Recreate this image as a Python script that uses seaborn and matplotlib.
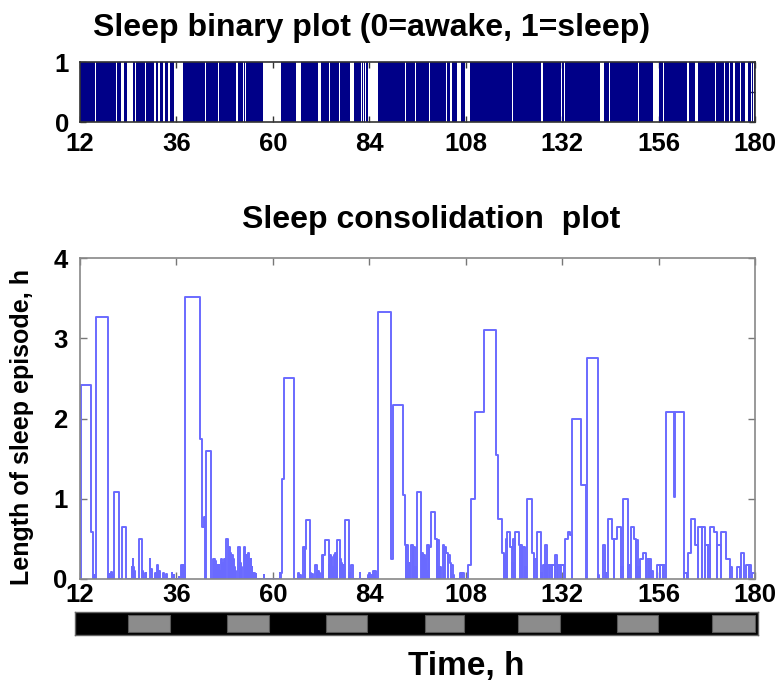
import matplotlib
matplotlib.use("Agg")
import matplotlib.pyplot as plt
from matplotlib.patches import Rectangle
import seaborn as sns

# ---------------- data ----------------
hour_ticks = [12, 36, 60, 84, 108, 132, 156, 180]
cons_yticks = [0, 1, 2, 3, 4]

# sleep episodes: onset (h), offset (h), episode length (h)
ep_on = [12.15, 14.62, 15.15, 15.45, 15.70, 15.95, 19.10, 19.40, 19.70, 19.95,
         20.50, 22.55, 24.90, 25.10, 25.30, 25.55, 26.65, 27.50, 27.75, 28.35,
         29.30, 29.50, 29.75, 30.70, 31.20, 31.75, 32.65, 33.50, 34.80, 35.10,
         35.35, 36.55, 37.20, 37.45, 37.65, 37.90, 38.20, 41.75, 42.35, 42.85,
         43.25, 45.10, 45.40, 45.70, 46.00, 46.25, 46.50, 46.75, 47.20, 47.50,
         47.80, 48.05, 48.40, 49.00, 49.40, 49.75, 50.10, 50.40, 50.70, 51.30,
         51.75, 52.05, 52.70, 53.15, 53.45, 53.80, 54.15, 54.45, 54.70, 55.00,
         55.30, 55.70, 57.70, 61.70, 62.00, 62.40, 62.80, 66.25, 66.70, 67.50,
         67.95, 68.30, 69.35, 69.70, 70.40, 71.00, 71.30, 71.60, 72.20, 72.60,
         72.90, 73.90, 74.20, 74.50, 74.80, 75.10, 75.55, 76.00, 76.65, 77.00,
         77.30, 77.55, 78.00, 78.95, 79.50, 81.60, 83.70, 84.05, 84.50, 84.90,
         85.20, 85.50, 86.15, 89.50, 89.90, 92.35, 92.80, 93.25, 93.65, 93.95,
         94.50, 94.95, 95.35, 95.80, 97.10, 97.50, 97.85, 98.20, 98.40, 98.85,
         99.30, 100.40, 100.90, 101.35, 101.70, 102.30, 102.75, 103.20, 103.65, 104.00,
         104.45, 104.90, 106.50, 106.85, 107.20, 108.60, 109.40, 110.40, 112.55, 115.60,
         116.00, 117.00, 117.50, 117.95, 118.35, 119.10, 119.55, 119.80, 120.35, 121.20,
         121.65, 122.15, 122.70, 123.25, 124.50, 125.00, 125.70, 126.70, 127.20, 127.80,
         128.35, 128.90, 129.50, 130.30, 130.85, 131.60, 132.60, 133.50, 134.00, 134.45,
         136.60, 138.30, 141.00, 142.20, 142.80, 143.40, 144.40, 144.95, 145.70, 146.75,
         147.20, 148.45, 149.05, 149.90, 150.45, 150.95, 151.50, 152.10, 153.00, 153.55,
         154.05, 155.70, 156.40, 157.10, 157.90, 159.85, 160.15, 162.35, 163.30, 164.10,
         165.10, 165.80, 166.85, 167.65, 168.25, 168.90, 169.80, 170.65, 171.60, 172.90,
         173.75, 175.40, 176.60, 177.85, 178.55, 179.15]
ep_off = [14.62, 15.15, 15.35, 15.60, 15.85, 19.05, 19.30, 19.60, 19.85, 20.15,
          21.75, 23.55, 25.05, 25.25, 25.45, 25.70, 27.45, 27.65, 27.90, 28.50,
          29.45, 29.65, 29.90, 30.85, 31.35, 31.90, 32.80, 33.65, 34.95, 35.25,
          35.50, 36.70, 37.40, 37.60, 37.85, 38.10, 41.75, 42.35, 42.85, 43.20,
          44.65, 45.35, 45.65, 45.95, 46.20, 46.45, 46.70, 46.95, 47.45, 47.75,
          48.00, 48.20, 48.95, 49.35, 49.70, 50.05, 50.35, 50.60, 50.90, 51.70,
          52.00, 52.25, 53.10, 53.40, 53.75, 54.10, 54.40, 54.65, 54.90, 55.15,
          55.45, 55.85, 57.85, 61.85, 62.40, 62.80, 65.25, 66.45, 66.90, 67.90,
          68.30, 69.25, 69.55, 69.90, 70.90, 71.20, 71.50, 71.80, 72.55, 72.90,
          73.85, 74.10, 74.45, 74.75, 75.00, 75.35, 75.95, 76.60, 76.95, 77.20,
          77.50, 77.75, 78.90, 79.15, 79.95, 81.80, 83.90, 84.25, 84.65, 85.10,
          85.40, 85.70, 89.50, 89.90, 92.35, 92.80, 93.20, 93.60, 93.90, 94.20,
          94.90, 95.30, 95.55, 96.95, 97.45, 97.80, 98.10, 98.35, 98.80, 99.30,
          100.40, 100.85, 101.30, 101.60, 101.95, 102.70, 103.20, 103.60, 104.00, 104.40,
          104.80, 105.10, 106.75, 107.10, 107.60, 109.40, 110.40, 112.55, 115.60, 116.00,
          117.00, 117.45, 117.90, 118.30, 119.10, 119.50, 119.75, 120.30, 121.20, 121.60,
          122.10, 122.65, 122.95, 124.50, 124.95, 125.60, 126.65, 126.90, 127.70, 128.30,
          128.85, 129.40, 130.20, 130.80, 131.50, 132.50, 133.50, 134.00, 134.40, 136.60,
          138.00, 140.90, 141.20, 142.70, 143.00, 144.40, 144.90, 145.70, 146.70, 147.10,
          148.40, 149.00, 149.90, 150.40, 150.90, 151.40, 152.10, 152.95, 153.50, 154.00,
          154.50, 156.30, 157.00, 157.70, 159.85, 160.15, 162.30, 163.20, 164.10, 165.10,
          165.75, 166.80, 167.60, 168.20, 168.85, 169.80, 170.60, 171.55, 172.90, 173.70,
          174.30, 176.20, 177.30, 178.50, 179.10, 179.90]
ep_len = [2.42, 0.58, 0.26, 0.05, 0.05, 3.27, 0.06, 0.05, 0.09, 0.05,
          1.08, 0.65, 0.15, 0.25, 0.15, 0.10, 0.50, 0.10, 0.08, 0.08,
          0.25, 0.10, 0.12, 0.07, 0.17, 0.10, 0.07, 0.06, 0.07, 0.05,
          0.05, 0.03, 0.17, 0.15, 0.17, 0.15, 3.52, 1.75, 0.65, 0.77,
          1.60, 0.25, 0.25, 0.22, 0.17, 0.12, 0.17, 0.10, 0.25, 0.20,
          0.25, 0.10, 0.50, 0.40, 0.33, 0.30, 0.25, 0.15, 0.10, 0.40,
          0.20, 0.15, 0.40, 0.30, 0.30, 0.32, 0.25, 0.25, 0.15, 0.07,
          0.07, 0.06, 0.05, 0.07, 0.07, 1.25, 2.50, 0.07, 0.05, 0.40,
          0.38, 0.73, 0.07, 0.06, 0.17, 0.08, 0.10, 0.08, 0.30, 0.30,
          0.48, 0.17, 0.30, 0.28, 0.15, 0.30, 0.32, 0.48, 0.25, 0.20,
          0.17, 0.17, 0.73, 0.07, 0.17, 0.07, 0.05, 0.07, 0.05, 0.10,
          0.08, 0.10, 3.33, 0.25, 2.17, 1.05, 0.42, 0.42, 0.20, 0.20,
          0.42, 0.40, 0.15, 1.08, 0.33, 0.30, 0.25, 0.10, 0.42, 0.40,
          0.83, 0.50, 0.48, 0.15, 0.15, 0.42, 0.40, 0.33, 0.30, 0.20,
          0.18, 0.05, 0.08, 0.08, 0.07, 0.17, 1.00, 2.08, 3.10, 1.55,
          0.75, 0.33, 0.30, 0.50, 0.58, 0.40, 0.20, 0.50, 0.58, 0.42,
          0.42, 0.40, 0.15, 1.00, 0.33, 0.25, 0.58, 0.08, 0.17, 0.42,
          0.17, 0.17, 0.17, 0.30, 0.17, 0.17, 0.50, 0.58, 0.55, 2.00,
          1.17, 2.75, 0.05, 0.42, 0.07, 0.75, 0.50, 0.50, 0.65, 0.15,
          1.00, 0.17, 0.65, 0.50, 0.48, 0.15, 0.25, 0.33, 0.25, 0.25,
          0.10, 0.17, 0.17, 0.17, 2.08, 1.02, 2.08, 0.07, 0.33, 0.75,
          0.42, 0.65, 0.65, 0.42, 0.42, 0.65, 0.58, 0.42, 0.58, 0.25,
          0.15, 0.15, 0.33, 0.17, 0.17, 0.07]

# awake bouts visible in the binary plot (h)
awake_on = [15.65, 20.20, 21.00, 22.10, 23.70, 25.75, 26.35, 28.10, 30.40, 31.40,
            32.70, 33.90, 34.80, 35.10, 35.40, 35.70, 43.10, 46.45, 47.55, 50.90,
            52.60, 52.95, 57.50, 65.80, 67.45, 68.65, 69.95, 71.20, 74.05, 75.35,
            76.55, 79.10, 82.00, 82.50, 83.00, 83.70, 92.80, 95.30, 98.95, 102.05,
            103.15, 104.00, 105.90, 107.70, 117.45, 119.55, 123.25, 126.80, 129.65, 130.45,
            131.75, 132.55, 141.30, 143.75, 145.65, 150.95, 152.85, 153.85, 154.60, 157.10,
            157.50, 163.20, 165.10, 166.95, 170.15, 172.35, 173.65, 174.50, 176.20, 177.40,
            178.70, 179.10, 179.50]
awake_off = [16.00, 20.30, 21.10, 22.90, 25.20, 25.85, 26.45, 28.50, 31.00, 31.80,
             33.20, 34.30, 34.95, 35.25, 35.55, 37.60, 43.25, 46.60, 47.65, 51.30,
             52.75, 53.40, 62.10, 66.90, 67.55, 68.75, 70.05, 71.90, 74.15, 75.45,
             76.65, 80.20, 82.20, 82.70, 83.20, 86.20, 93.10, 95.65, 99.05, 102.15,
             103.25, 104.70, 106.90, 109.00, 117.55, 119.65, 123.35, 127.20, 129.75, 130.55,
             131.85, 132.65, 142.40, 143.85, 145.75, 151.05, 152.95, 153.95, 156.00, 157.30,
             157.70, 163.50, 165.80, 167.05, 170.25, 172.45, 173.75, 174.90, 176.60, 178.30,
             178.85, 179.25, 179.65]

# light periods (grey) on the light/dark bar (h)
light_on = [23.95, 48.6, 73.2, 97.9, 121.0, 145.6, 169.3]
light_off = [34.4, 59.0, 83.4, 107.6, 131.5, 155.9, 180.0]

assert len(ep_on) == len(ep_off) == len(ep_len)
assert len(awake_on) == len(awake_off)

# ---------------- style ----------------
sns.set_theme(style="ticks")
plt.rcParams["font.family"] = ["Liberation Sans", "DejaVu Sans"]
plt.rcParams["font.weight"] = "bold"
plt.rcParams["text.color"] = "black"
plt.rcParams["xtick.labelcolor"] = "black"
plt.rcParams["ytick.labelcolor"] = "black"

W, H = 777, 690
fig = plt.figure(figsize=(W / 100, H / 100), dpi=100)


def px_axes(l, t, r, b):
    return fig.add_axes([l / W, 1 - b / H, (r - l) / W, (b - t) / H])


TICK_FS = 18.5
NAVY = "#000088"
LINE = "#6a6aff"

# ---------------- top: binary plot ----------------
ax_top = px_axes(80, 62, 755, 122)
bt, bs = [12.0], [1]
for a, b in zip(awake_on, awake_off):
    bt += [a, b]
    bs += [0, 1]
bt.append(180.0)
bs.append(1)
ax_top.fill_between(bt, bs, 0, step="post", color=NAVY, linewidth=0)
ax_top.set_xlim(12, 180)
ax_top.set_ylim(0, 1)
ax_top.set_xticks(hour_ticks)
ax_top.set_xticklabels([str(h) for h in hour_ticks])
ax_top.set_yticks([0, 0.5, 1])
ax_top.set_yticklabels(["0", "", "1"])
ax_top.tick_params(direction="in", length=4, width=1, top=True, right=True,
                   labelsize=TICK_FS, color="#333333", pad=7)
ax_top.tick_params(axis="y", pad=8)
for sp in ax_top.spines.values():
    sp.set_color("#333333")
    sp.set_linewidth(1.2)

fig.text(372 / W, 1 - 28 / H, "Sleep binary plot (0=awake, 1=sleep)",
         ha="center", va="center", fontsize=23, fontweight="bold")

# ---------------- bottom: consolidation plot ----------------
ax = px_axes(80, 258, 755, 579)
xs, ys = [12.0], [0.0]
for on, off, v in zip(ep_on, ep_off, ep_len):
    if abs(on - xs[-1]) < 1e-9:
        ys[-1] = v
    else:
        xs.append(on)
        ys.append(v)
    xs.append(off)
    ys.append(0.0)
xs.append(180.0)
ys.append(0.0)
sns.lineplot(x=xs, y=ys, ax=ax, estimator=None, sort=False,
             drawstyle="steps-post", color=LINE, linewidth=1.4)
ax.set_xlim(12, 180)
ax.set_ylim(0, 4)
ax.set_xticks(hour_ticks)
ax.set_xticklabels([str(h) for h in hour_ticks])
ax.set_yticks(cons_yticks)
ax.set_yticklabels([str(v) for v in cons_yticks])
ax.set_xlabel("")
ax.set_ylabel("")
ax.tick_params(direction="in", length=5, width=1, top=True, right=True,
               labelsize=TICK_FS, color="#777777", pad=3)
ax.tick_params(axis="y", pad=9)
for sp in ax.spines.values():
    sp.set_color("#888888")
    sp.set_linewidth(1.2)

fig.text(431 / W, 1 - 220 / H, "Sleep consolidation  plot",
         ha="center", va="center", fontsize=23, fontweight="bold")
fig.text(22 / W, 1 - 427 / H, "Length of sleep episode, h", rotation=90,
         ha="center", va="center", fontsize=18, fontweight="bold")

# ---------------- light/dark bar ----------------
axb = px_axes(75, 612, 758, 635)
axb.set_facecolor("black")
axb.set_xlim(10.76, 180.7)
axb.set_ylim(0, 1)
for a, b in zip(light_on, light_off):
    axb.add_patch(Rectangle((a, 0.13), b - a, 0.74, facecolor="#8c8c8c",
                            edgecolor="#5a5a5a", linewidth=0.8))
axb.set_xticks([])
axb.set_yticks([])
for sp in axb.spines.values():
    sp.set_color("#666666")
    sp.set_linewidth(1.0)

fig.text(466 / W, 1 - 667 / H, "Time, h", ha="center", va="center",
         fontsize=24, fontweight="bold")

fig.savefig("out.png", dpi=100)
